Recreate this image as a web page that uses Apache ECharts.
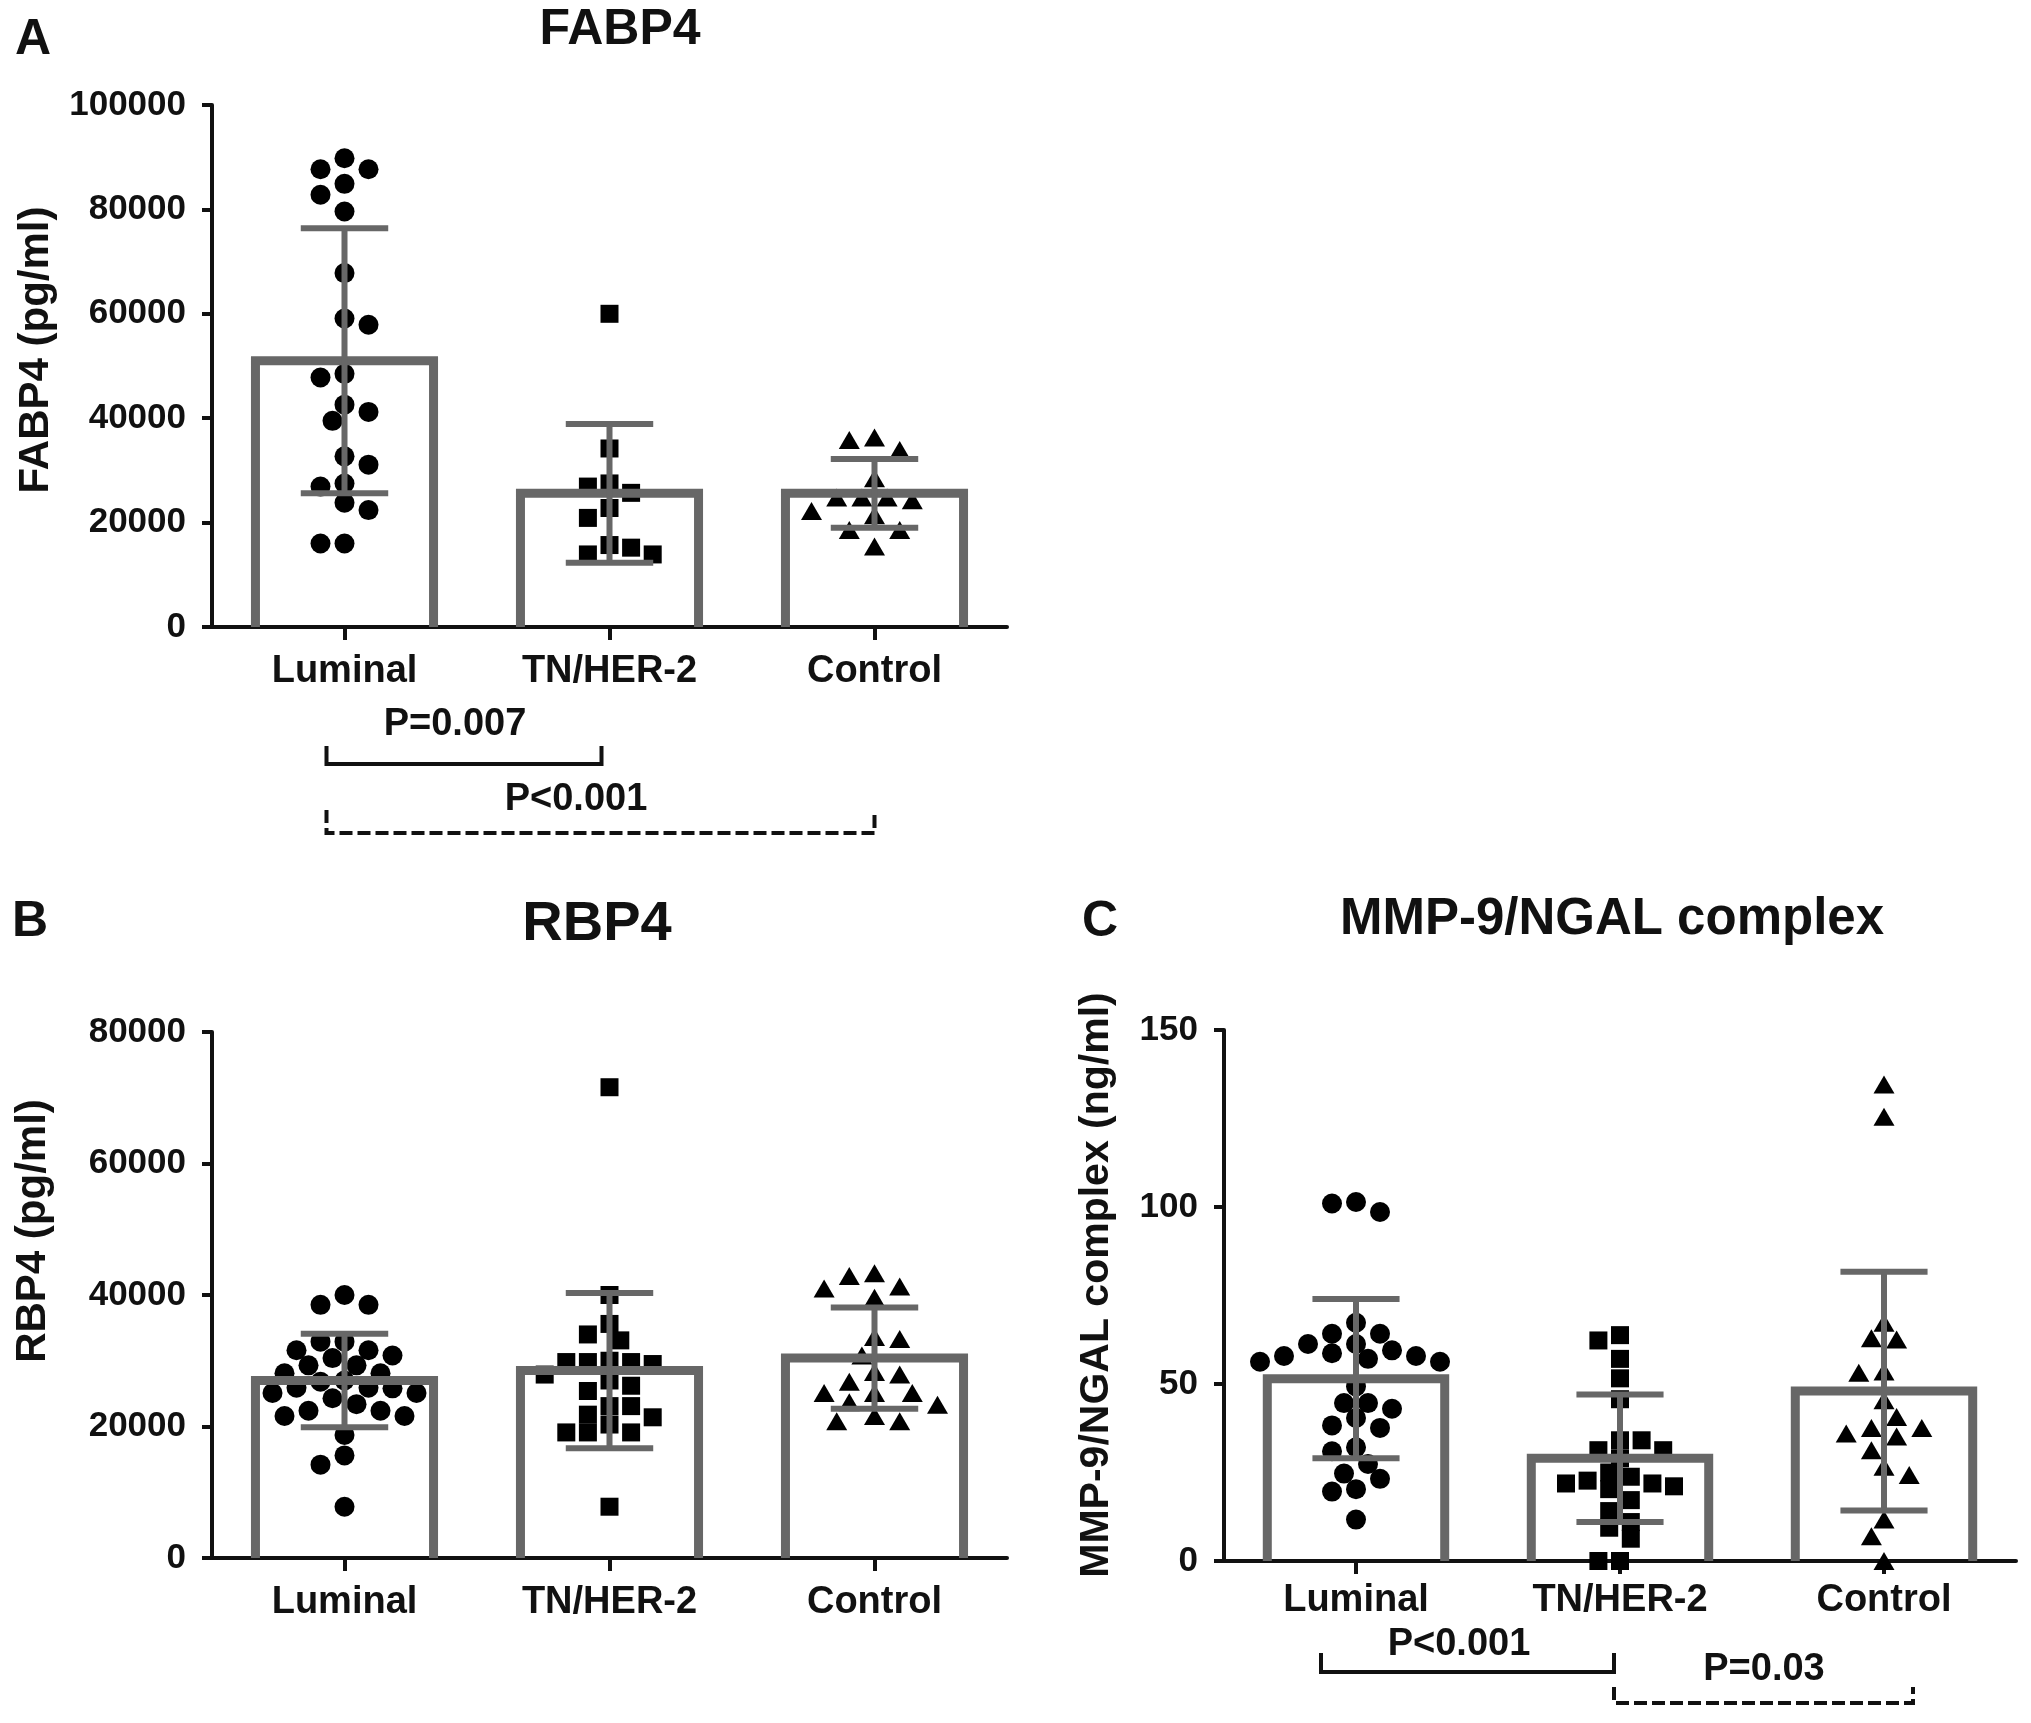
<!DOCTYPE html>
<html><head><meta charset="utf-8">
<script src="https://cdn.jsdelivr.net/npm/echarts@6/dist/echarts.min.js"></script>
<style>html,body{margin:0;padding:0;background:#fff}#c{width:2031px;height:1723px}</style>
</head><body><div id="c"></div>
<script>
// ---------------- data ----------------
const categories = ['Luminal', 'TN/HER-2', 'Control'];

// Panel A: FABP4 (pg/ml)
const fabp4Luminal = [89800, 87700, 87700, 84900, 82800, 79600, 67800, 59100, 57900, 48500, 47800, 42600, 41200, 39500, 32700, 31100, 27500, 26900, 23800, 22400, 16000, 16000];
const fabp4TnHer2 = [60000, 34200, 27500, 26900, 25700, 22800, 20900, 15700, 15200, 13900, 13900];
const fabp4Control = [36300, 35800, 33900, 28500, 24800, 24800, 24800, 24300, 22200, 21400, 18600, 18600, 15400];
const fabp4Mean = [51000, 25600, 25600];
const fabp4SD = [25400, 13300, 6600];
const fabp4Ticks = { min: 0, max: 100000, interval: 20000 };

// Panel B: RBP4 (pg/ml)
const rbp4Luminal = [40000, 38500, 38500, 32900, 32900, 31600, 31600, 30800, 30400, 29300, 29300, 28100, 28100, 27000, 26800, 25900, 25900, 25800, 25100, 25100, 24300, 23400, 22400, 22400, 21600, 21600, 18700, 15600, 14200, 7800];
const rbp4TnHer2 = [71600, 40000, 35600, 34000, 33100, 30000, 29800, 29800, 29800, 29500, 27900, 27000, 26200, 25400, 23100, 23100, 21800, 21400, 20300, 19100, 19100, 19100, 7800];
const rbp4Control = [43300, 42900, 41300, 41000, 39600, 33600, 33300, 30800, 28300, 27900, 26800, 25100, 25100, 25100, 23700, 23300, 21600, 20800, 20800];
const rbp4Mean = [27000, 28500, 30400];
const rbp4SD = [7100, 11800, 7700];
const rbp4Ticks = { min: 0, max: 80000, interval: 20000 };

// Panel C: MMP-9/NGAL complex (ng/ml)
const mmpLuminal = [101.4, 101, 98.6, 67.3, 64.2, 64.2, 61.3, 61.3, 59.5, 58.7, 57.9, 57.9, 57.1, 56.3, 56.3, 49.3, 44.6, 44.6, 43.0, 40.4, 38.3, 37.6, 32.1, 31.0, 27.4, 24.7, 23.2, 20.3, 19.6, 11.7];
const mmpTnHer2 = [63.8, 62.3, 57.1, 51.6, 45.7, 34.1, 34.1, 31.3, 31.3, 29.0, 25.0, 23.8, 22.7, 21.9, 21.9, 21.1, 20.3, 17.2, 14.1, 11.0, 9.4, 6.3, 0, 0];
const mmpControl = [134.6, 125.5, 67.3, 62.9, 62.6, 53.5, 53.2, 45.4, 40.7, 37.6, 37.6, 36.0, 35.2, 31.3, 26.6, 24.3, 11.7, 7.0, 0];
const mmpMean = [51.5, 29.0, 48.0];
const mmpSD = [22.5, 18.0, 33.7];
const mmpTicks = { min: 0, max: 150, interval: 50 };

// ---------------- style ----------------
const FONT = "'Liberation Sans', Arial, Helvetica, sans-serif";
const INK = '#111111';
const GRAY = '#676767';
const SYMBOLS = ['circle', 'rect', 'triangle'];
const SYMBOL_SIZE = [20, 18, [21, 18]];

const panels = [
  { grid: { left: 212, top: 105, width: 795, height: 522 }, labelMargin: 26, ticks: fabp4Ticks, groups: [fabp4Luminal, fabp4TnHer2, fabp4Control], mean: fabp4Mean, sd: fabp4SD },
  { grid: { left: 212, top: 1032, width: 795, height: 526 }, labelMargin: 26, ticks: rbp4Ticks, groups: [rbp4Luminal, rbp4TnHer2, rbp4Control], mean: rbp4Mean, sd: rbp4SD },
  { grid: { left: 1224, top: 1030, width: 792, height: 531 }, labelMargin: 21, ticks: mmpTicks, groups: [mmpLuminal, mmpTnHer2, mmpControl], mean: mmpMean, sd: mmpSD }
];

// deterministic beeswarm: horizontal offset so that symbols do not overlap
function swarm(values, pxPerUnit, size, step) {
  const placed = [];
  let flip = -1;
  return values.map(v => {
    const y = v * pxPerUnit;
    const minD = size * 0.92;
    let off = 0;
    for (let k = 0; k < 80; k++) {
      const mag = Math.ceil(k / 2) * step;
      const sign = (k % 2 === 1) ? flip : -flip;
      const cand = k === 0 ? 0 : sign * mag;
      if (placed.every(p => Math.hypot(p.x - cand, p.y - y) >= minD)) { off = cand; break; }
    }
    if (off !== 0) flip = -Math.sign(off);
    placed.push({ x: off, y });
    return off;
  });
}

const grids = [], xAxes = [], yAxes = [], series = [];
panels.forEach((p, pi) => {
  grids.push(p.grid);
  xAxes.push({
    type: 'category', gridIndex: pi, data: categories,
    axisLine: { show: true, lineStyle: { color: INK, width: 4 } },
    axisTick: { show: true, alignWithLabel: true, length: 13, lineStyle: { color: INK, width: 4 } },
    axisLabel: { color: INK, fontFamily: FONT, fontWeight: 'bold', fontSize: 38, margin: p.labelMargin },
    splitLine: { show: false }
  });
  yAxes.push({
    type: 'value', gridIndex: pi, min: p.ticks.min, max: p.ticks.max, interval: p.ticks.interval,
    axisLine: { show: true, lineStyle: { color: INK, width: 4 } },
    axisTick: { show: true, length: 10, lineStyle: { color: INK, width: 4 } },
    axisLabel: { color: INK, fontFamily: FONT, fontWeight: 'bold', fontSize: 35, margin: 26, formatter: v => String(v) },
    splitLine: { show: false }
  });
  const pxPerUnit = p.grid.height / (p.ticks.max - p.ticks.min);
  p.groups.forEach((vals, ci) => {
    const sz = Array.isArray(SYMBOL_SIZE[ci]) ? SYMBOL_SIZE[ci][0] : SYMBOL_SIZE[ci];
    const offs = swarm(vals, pxPerUnit, sz, sz * 0.6);
    series.push({
      type: 'scatter', xAxisIndex: pi, yAxisIndex: pi, z: 2,
      symbol: SYMBOLS[ci], symbolSize: SYMBOL_SIZE[ci],
      itemStyle: { color: '#000', opacity: 1 },
      silent: true,
      data: vals.map((v, k) => ({ value: [ci, v], symbolOffset: [offs[k], 0] }))
    });
  });
  // bar outlines (open at the bottom) + SD error bars, drawn over the points
  series.push({
    type: 'custom', xAxisIndex: pi, yAxisIndex: pi, z: 4, silent: true,
    data: p.mean.map((m, i) => [i, m, p.sd[i]]),
    renderItem: (params, api) => {
      const i = api.value(0), m = api.value(1), s = api.value(2);
      const base = api.coord([i, 0]);
      const top = api.coord([i, m]);
      const up = api.coord([i, m + s]);
      const dn = api.coord([i, Math.max(0, m - s)]);
      const band = api.size([1, 0])[0];
      const hb = band * 0.336, hc = band * 0.165;
      const cx = base[0];
      return {
        type: 'group', children: [
          { type: 'polyline', shape: { points: [[cx - hb, base[1]], [cx - hb, top[1]], [cx + hb, top[1]], [cx + hb, base[1]]] },
            style: { fill: null, stroke: GRAY, lineWidth: 9, lineJoin: 'miter' } },
          { type: 'line', shape: { x1: cx, y1: up[1], x2: cx, y2: dn[1] }, style: { stroke: GRAY, lineWidth: 6 } },
          { type: 'line', shape: { x1: cx - hc, y1: up[1], x2: cx + hc, y2: up[1] }, style: { stroke: GRAY, lineWidth: 6 } },
          { type: 'line', shape: { x1: cx - hc, y1: dn[1], x2: cx + hc, y2: dn[1] }, style: { stroke: GRAY, lineWidth: 6 } }
        ]
      };
    }
  });
});

const chart = echarts.init(document.getElementById('c'), null, { renderer: 'canvas' });
chart.setOption({
  backgroundColor: '#ffffff',
  animation: false,
  grid: grids, xAxis: xAxes, yAxis: yAxes, series: series
});

// ---------------- texts & significance brackets ----------------
function txt(text, x, y, size, rot) {
  return { type: 'text', x: x, y: y, rotation: rot || 0, silent: true,
    style: { text: text, fill: INK, font: 'bold ' + size + 'px ' + FONT, textAlign: 'center', textVerticalAlign: 'middle' } };
}
function cx(pi, name) { return chart.convertToPixel({ xAxisIndex: pi }, name); }
function bracket(x1, x2, yLine, yTop, dashed) {
  return { type: 'polyline', silent: true,
    shape: { points: [[x1, yTop], [x1, yLine], [x2, yLine], [x2, yTop]] },
    style: { fill: null, stroke: INK, lineWidth: 4, lineDash: dashed ? [13, 5] : null } };
}
const g = [
  txt('A', 33, 40, 50), txt('FABP4', 620, 30, 50),
  txt('B', 30, 922, 50), txt('RBP4', 597, 925, 56),
  txt('C', 1100, 922, 50), txt('MMP-9/NGAL complex', 1612, 920, 51),
  txt('FABP4 (pg/ml)', 36, 350, 42, Math.PI / 2),
  txt('RBP4 (pg/ml)', 33, 1231, 42, Math.PI / 2),
  txt('MMP-9/NGAL complex (ng/ml)', 1097, 1285, 41, Math.PI / 2),
  // panel A
  txt('P=0.007', 455, 725, 38),
  bracket(cx(0, 'Luminal') - 18, cx(0, 'TN/HER-2') - 8, 764, 746, false),
  txt('P<0.001', 576, 800, 38),
  bracket(cx(0, 'Luminal') - 18, cx(0, 'Control'), 833, 810, true),
  // panel C
  txt('P<0.001', 1459, 1645, 38),
  bracket(cx(2, 'Luminal') - 35, cx(2, 'TN/HER-2') - 6, 1672, 1653, false),
  txt('P=0.03', 1764, 1670, 38),
  bracket(cx(2, 'TN/HER-2') - 6, cx(2, 'Control') + 29, 1703, 1687, true)
];
chart.setOption({ graphic: g });
</script>
</body></html>
